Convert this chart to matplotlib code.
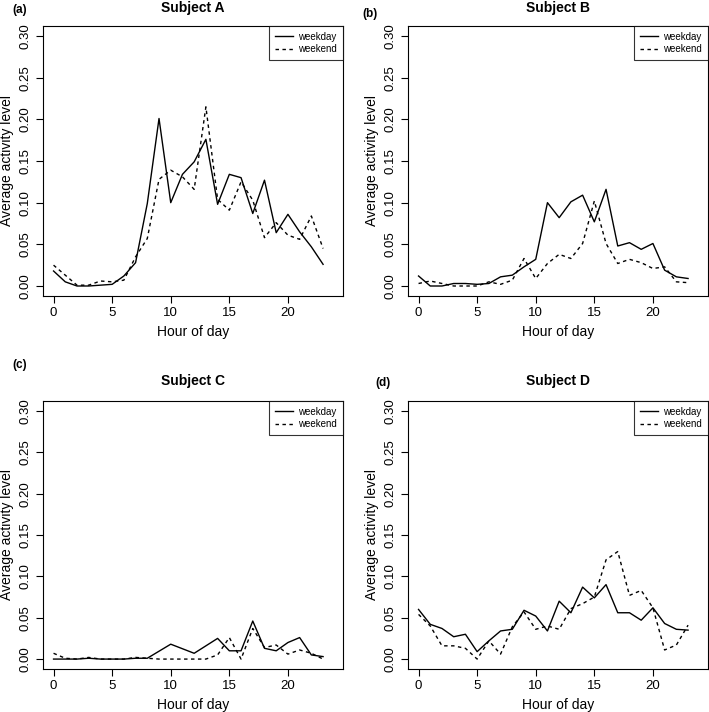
import matplotlib
matplotlib.use('Agg')
import matplotlib.pyplot as plt
import numpy as np

plt.rcParams['font.family'] = ['Liberation Sans', 'DejaVu Sans']

hours = list(range(24))

# Subject A
a_weekday = [0.018, 0.005, 0.0, 0.0, 0.001, 0.002, 0.012, 0.028, 0.099, 0.201, 0.100, 0.134,
             0.149, 0.176, 0.098, 0.134, 0.130, 0.087, 0.127, 0.064, 0.086, 0.065, 0.047, 0.026]
a_weekend = [0.025, 0.013, 0.001, 0.001, 0.006, 0.005, 0.007, 0.035, 0.057, 0.128, 0.139, 0.131,
             0.116, 0.215, 0.104, 0.091, 0.125, 0.103, 0.058, 0.076, 0.061, 0.056, 0.084, 0.045]
# Subject B
b_weekday = [0.012, 0.0, 0.0, 0.003, 0.003, 0.002, 0.003, 0.011, 0.013, 0.023, 0.032, 0.100,
             0.082, 0.101, 0.109, 0.077, 0.116, 0.048, 0.052, 0.044, 0.051, 0.019, 0.011, 0.009]
b_weekend = [0.003, 0.006, 0.003, 0.0, 0.0, 0.0, 0.005, 0.002, 0.007, 0.033, 0.009, 0.027,
             0.038, 0.033, 0.051, 0.102, 0.051, 0.027, 0.032, 0.028, 0.021, 0.023, 0.005, 0.004]
# Subject C
c_weekday = [0.0, 0.0, 0.0, 0.001, 0.0, 0.0, 0.0, 0.001, 0.001, 0.0095, 0.018, 0.0125,
             0.007, 0.016, 0.025, 0.010, 0.010, 0.046, 0.013, 0.010, 0.020, 0.026, 0.005, 0.003]
c_weekend = [0.007, 0.001, 0.0, 0.002, 0.0, 0.0, 0.0, 0.002, 0.001, 0.0, 0.0, 0.0,
             0.0, 0.0, 0.005, 0.026, 0.0, 0.037, 0.014, 0.017, 0.006, 0.011, 0.007, 0.0]
# Subject D
d_weekday = [0.060, 0.042, 0.037, 0.027, 0.030, 0.009, 0.022, 0.034, 0.036, 0.059, 0.052, 0.034,
             0.070, 0.056, 0.087, 0.074, 0.090, 0.056, 0.056, 0.047, 0.062, 0.043, 0.036, 0.035]
d_weekend = [0.054, 0.040, 0.016, 0.016, 0.013, 0.0, 0.022, 0.006, 0.039, 0.057, 0.036, 0.040,
             0.036, 0.061, 0.067, 0.075, 0.120, 0.130, 0.077, 0.083, 0.062, 0.011, 0.017, 0.041]

panels = [
    ('(a)', 'Subject A', a_weekday, a_weekend),
    ('(b)', 'Subject B', b_weekday, b_weekend),
    ('(c)', 'Subject C', c_weekday, c_weekend),
    ('(d)', 'Subject D', d_weekday, d_weekend),
]

W, H = 709, 712
fig = plt.figure(figsize=(W / 100, H / 100), dpi=100)

# axes boxes in pixels: left, top, right, bottom
boxes = [(43, 26, 343, 296), (408, 26, 708, 296), (43, 401, 343, 669), (408, 401, 708, 669)]
# (label x, label y, title y)
label_pos = [(20, 10, 8), (370, 14, 8), (20, 365, 381), (383, 383, 381)]

for (lab, title, wd, we), (l, t, r, b), (lx, ly, ty) in zip(panels, boxes, label_pos):
    ax = fig.add_axes([l / W, 1 - b / H, (r - l) / W, (b - t) / H])
    ax.plot(hours, wd, color='black', lw=1.0, linestyle='-', label='weekday')
    ax.plot(hours, we, color='black', lw=1.0, linestyle=(0, (2.5, 2.5)), label='weekend')
    ax.set_xlim(-0.9, 24.7)
    ax.set_ylim(-0.012, 0.312)
    ax.set_xticks([0, 5, 10, 15, 20])
    ax.set_yticks([0.0, 0.05, 0.10, 0.15, 0.20, 0.25, 0.30])
    ax.set_yticklabels(['0.00', '0.05', '0.10', '0.15', '0.20', '0.25', '0.30'],
                       rotation=90, va='center')
    ax.tick_params(direction='out', length=5, width=0.8, labelsize=9.5, pad=3)
    for s in ax.spines.values():
        s.set_linewidth(0.8)
    ax.set_xlabel('Hour of day', fontsize=10, labelpad=4)
    ax.set_ylabel('Average activity level', fontsize=10, labelpad=4)
    leg = ax.legend(loc='upper right', fontsize=7, frameon=True, fancybox=False,
                    borderaxespad=0, handlelength=1.8, handletextpad=0.6,
                    borderpad=0.6, labelspacing=0.25)
    leg.get_frame().set_edgecolor('black')
    leg.get_frame().set_linewidth(0.8)
    fig.text(lx / W, 1 - ly / H, lab, fontsize=8.5, fontweight='bold', ha='center', va='center')
    fig.text(((l + r) / 2) / W, 1 - ty / H, title, fontsize=10, fontweight='bold',
             ha='center', va='center')

fig.savefig('out.png', dpi=100)
